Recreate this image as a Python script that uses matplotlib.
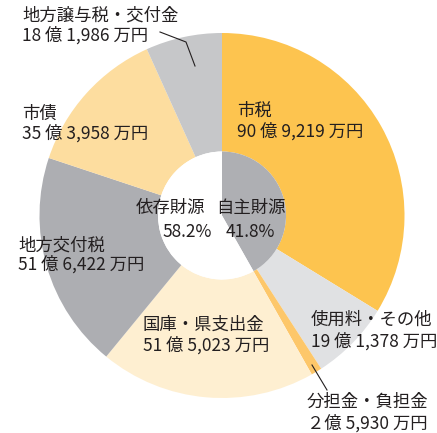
import matplotlib
matplotlib.use('Agg')
import matplotlib.pyplot as plt

plt.rcParams['font.family'] = ['Noto Sans CJK JP', 'DejaVu Sans']

# 歳入の内訳（万円）
categories = ['市税', '使用料・その他', '分担金・負担金', '国庫・県支出金',
              '地方交付税', '市債', '地方譲与税・交付金']
amounts = [909219, 191378, 25930, 515023, 516422, 353958, 181986]
amount_labels = ['90 億 9,219 万円', '19 億 1,378 万円', '２億 5,930 万円',
                 '51 億 5,023 万円', '51 億 6,422 万円', '35 億 3,958 万円',
                 '18 億 1,986 万円']
colors = ['#FDC44F', '#E0E1E3', '#FDC76A', '#FEEFD1', '#ADAEB2', '#FDDD9F', '#C6C7C9']

# 自主財源・依存財源
source_names = ['自主財源', '依存財源']
source_share = [41.8, 58.2]
source_colors = ['#AEAFB3', 'white']

W, H = 437, 433
TXT = '#231F20'
fig = plt.figure(figsize=(W / 100, H / 100), dpi=100)
ax = fig.add_axes([0, 0, 1, 1])

cx, cy = 222, H - 215.5
r_out, r_in = 182.5, 64

ax.pie(amounts, colors=colors, startangle=90, counterclock=False,
       radius=r_out, center=(cx, cy), frame=True,
       wedgeprops=dict(width=r_out - r_in, linewidth=0))
ax.pie(source_share, colors=source_colors, startangle=90, counterclock=False,
       radius=r_in, center=(cx, cy), frame=True,
       wedgeprops=dict(linewidth=0))
ax.set_xlim(0, W)
ax.set_ylim(0, H)
ax.set_aspect('equal')
ax.axis('off')


def label(x, y, s, ha='left'):
    # 画像上の座標（左上原点）で配置
    ax.text(x, H - y, s, fontsize=12.5, va='center', ha=ha, color=TXT)


# 外側ラベル（左端x, 1行目y, 2行目y）
pos = {
    '市税': (237, 111, 131),
    '使用料・その他': (311, 320, 341),
    '分担金・負担金': (307, 402, 423),
    '国庫・県支出金': (143, 325, 345),
    '地方交付税': (18, 245, 264),
    '市債': (22, 114, 133),
    '地方譲与税・交付金': (22, 15, 35),
}
for name, amt in zip(categories, amount_labels):
    x, y1, y2 = pos[name]
    label(x, y1, name)
    label(x, y2, amt)

# 引き出し線
ax.plot([160, 186, 195], [H - 32, H - 42, H - 66], color=TXT, lw=0.8)
ax.plot([312, 327], [H - 365, H - 390], color=TXT, lw=0.8)

# 中央ラベル
label(170, 208, source_names[1], ha='center')
label(187, 232, f'{source_share[1]}%', ha='center')
label(251, 208, source_names[0], ha='center')
label(250, 232, f'{source_share[0]}%', ha='center')

fig.savefig('out.png', dpi=100)
